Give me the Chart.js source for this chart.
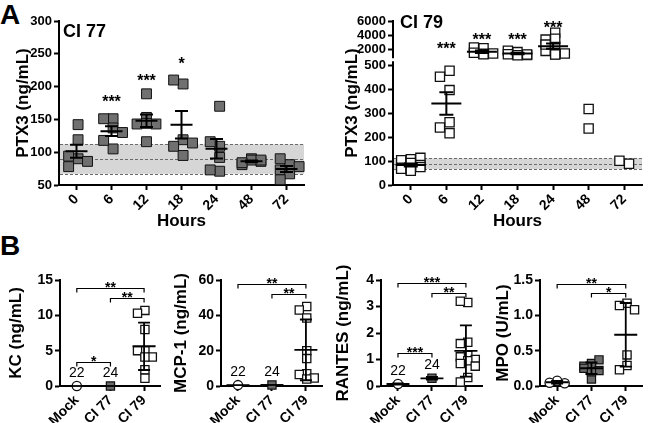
<!DOCTYPE html>
<html>
<head>
<meta charset="utf-8">
<script src="https://cdn.jsdelivr.net/npm/chart.js@4.4.1/dist/chart.umd.min.js"></script>
<style>
body { margin: 0; background: #fff; }
#fig { position: relative; width: 650px; height: 423px; overflow: hidden; font-family: 'Liberation Sans', Arial, sans-serif; }
#fig canvas { position: absolute; }
.tag { position: absolute; font-weight: bold; font-size: 28px; line-height: 1; }
</style>
</head>
<body>
<div id="fig">
  <div class="tag" style="left:0;top:1px">A</div>
  <div class="tag" style="left:0;top:232px">B</div>
  <canvas id="ci77" width="325" height="235" style="left:0;top:0"></canvas>
  <canvas id="ci79" width="320" height="235" style="left:330px;top:0"></canvas>
  <canvas id="kc" width="168" height="198" style="left:0;top:225px"></canvas>
  <canvas id="mcp" width="165" height="198" style="left:165px;top:225px"></canvas>
  <canvas id="rantes" width="163" height="198" style="left:327px;top:225px"></canvas>
  <canvas id="mpo" width="163" height="198" style="left:487px;top:225px"></canvas>
</div>
<script>
// ---- data ----
const hours = ['0', '6', '12', '18', '24', '48', '72'];
const mockBand = [67, 90, 112];

const ci77Ptx3 = [
    [142, 119, 90, 94, 86, 78],
    [151, 137, 105, 151, 118, 130],
    [189, 153, 143, 143, 116, 144],
    [204, 210, 95, 119, 109, 114],
    [170, 109, 116, 92, 71, 73],
    [90, 81, 86, 88, 84, 88],
    [81, 90, 73, 67, 58, 78]
];
const ci77Stars = ['', '***', '***', '*', '', '', ''];
const ci77StarAt = [null, 182, 215, 240, null, null, null];
const ci77Ticks = [50, 100, 150, 200, 250, 300];

const ci79Ptx3 = [
    [108, 104, 114, 92, 84, 72, 64, 60, 75, 68],
    [479, 454, 398, 217, 263, 241],
    [2150, 2250, 1350, 1500, 1400, 1300],
    [1600, 1800, 1200, 1150, 1300, 1250],
    [4350, 3500, 3370, 2330, 1770, 1290, 1390, 1250, 2660],
    [319, 237],
    [89, 102]
];
const ci79Stars = ['', '***', '***', '***', '***', '', ''];
const ci79StarAt = [null, 2570, 3840, 3840, 5630, null, null];
const ci79Ticks = [0, 100, 200, 300, 400, 500, 2000, 4000, 6000];

const groups = ['Mock', 'CI 77', 'CI 79'];

const kcValues = [[0], [0], [10.7, 10.3, 8.0, 5.0, 5.0, 4.1, 4.1, 2.3, 1.1]];
const kcN = ['22', '24', ''];
const kcTicks = [0, 5, 10, 15];
const kcBrackets = [[0, 2, 13.8, '**'], [1, 2, 12.4, '**'], [0, 1, 3.4, '*']];

const mcpValues = [[0.5], [0.6], [45, 43, 38.5, 20, 15.5, 7, 6.5, 4.5, 4]];
const mcpN = ['22', '24', ''];
const mcpTicks = [0, 20, 40, 60];
const mcpBrackets = [[0, 2, 57.7, '**'], [1, 2, 52, '**']];

const rantesValues = [[0.075], [0.29], [3.15, 3.2, 1.65, 1.6, 1.15, 1.1, 1.0, 0.95, 0.85, 0.75, 0.32, 0.15]];
const rantesSd = [0.02, 0.05, null];
const rantesN = ['22', '24', ''];
const rantesTicks = [0, 1, 2, 3, 4];
const rantesBrackets = [[0, 2, 3.9, '***'], [1, 2, 3.5, '**'], [0, 1, 1.23, '***']];

const mpoValues = [[0.075, 0.047, 0.038], [0.32, 0.28, 0.37, 0.27, 0.22, 0.25, 0.1, 0.2], [1.17, 1.14, 1.08, 0.44, 0.29, 0.23]];
const mpoTicks = [0, 0.5, 1.0, 1.5];
const mpoBrackets = [[0, 2, 1.44, '**'], [1, 2, 1.31, '*']];

// ---- helpers ----
const FONT = "'Liberation Sans', Arial, Helvetica, sans-serif";
Chart.defaults.font.family = FONT;
Chart.defaults.color = '#000';

// where the two pieces of the broken PTX3 axis sit (fraction of axis height from bottom)
const ptxSegments = [
    {from: 0, to: 515, start: 0, end: 0.7486},
    {from: 870, to: 6000, start: 0.779, end: 1}
];

class BrokenScale extends Chart.LinearScale {
    getPixelForValue(value) {
        const [lo, up] = ptxSegments;
        let f;
        if (value <= lo.to) {
            f = lo.start + (value - lo.from) / (lo.to - lo.from) * (lo.end - lo.start);
        } else if (value >= up.from) {
            f = up.start + (value - up.from) / (up.to - up.from) * (up.end - up.start);
        } else {
            f = lo.end + (value - lo.to) / (up.from - lo.to) * (up.start - lo.end);
        }
        return this.bottom - f * (this.bottom - this.top);
    }
    getValueForPixel(pixel) {
        const [lo, up] = ptxSegments;
        const f = (this.bottom - pixel) / (this.bottom - this.top);
        if (f <= lo.end) return lo.from + (f - lo.start) / (lo.end - lo.start) * (lo.to - lo.from);
        if (f >= up.start) return up.from + (f - up.start) / (up.end - up.start) * (up.to - up.from);
        return lo.to + (f - lo.end) / (up.start - lo.end) * (up.from - lo.to);
    }
}
BrokenScale.id = 'broken';
Chart.register(BrokenScale);

function stats(vals) {
    const n = vals.length;
    const mean = vals.reduce((a, b) => a + b, 0) / n;
    const sd = n > 1 ? Math.sqrt(vals.reduce((a, b) => a + (b - mean) ** 2, 0) / (n - 1)) : 0;
    return {n, mean, sd, sem: sd / Math.sqrt(n)};
}

// simple column scatter spread, like the prism plots
function swarm(vals, step, tol) {
    const cands = [0, -1, 1, -0.5, 0.5];
    const placed = [];
    vals.forEach(v => {
        let best = 0, bestHits = Infinity;
        for (const c of cands) {
            const hits = placed.filter(p => Math.abs(p.c - c) < 0.9 && Math.abs(p.v - v) < tol).length;
            if (hits < bestHits) { best = c; bestHits = hits; }
            if (hits === 0) break;
        }
        placed.push({c: best, v});
    });
    const shift = placed.reduce((a, p) => a + p.c, 0) / placed.length;
    return placed.map(p => (p.c - shift) * step);
}

function noPad(s) {
    s.paddingLeft = 0; s.paddingRight = 0; s.paddingTop = 0; s.paddingBottom = 0;
}

function catAxis(labels, height, title, size) {
    return {
        type: 'linear',
        min: -0.5,
        max: labels.length - 0.5,
        afterBuildTicks: s => { s.ticks = labels.map((l, i) => ({value: i})); },
        afterFit: s => { s.height = height; noPad(s); },
        border: {display: true, color: '#000', width: 2},
        grid: {drawOnChartArea: false, tickLength: 5, tickWidth: 2, tickColor: '#000'},
        ticks: {
            autoSkip: false, minRotation: 45, maxRotation: 45, padding: 1, color: '#000',
            font: {size: size, weight: 'bold'},
            callback: v => labels[v]
        },
        title: title
            ? {display: true, text: title, color: '#000', font: {size: 17, weight: 'bold'}, padding: {top: 0, bottom: 3}}
            : {display: false}
    };
}

function valAxis(o) {
    return {
        type: o.type || 'linear',
        min: o.min,
        max: o.max,
        afterBuildTicks: s => { s.ticks = o.ticks.map(v => ({value: v})); },
        afterFit: s => { s.width = o.width; noPad(s); },
        border: {display: true, color: '#000', width: 2},
        grid: {drawOnChartArea: false, tickLength: 5, tickWidth: 2, tickColor: '#000'},
        ticks: {autoSkip: false, padding: 2, color: '#000', font: {size: o.size || 13, weight: 'bold'}, callback: o.fmt || (v => String(v))},
        title: {display: true, text: o.title, color: '#000', font: {size: 17, weight: 'bold'}, padding: {top: o.titlePad, bottom: 0}}
    };
}

function prism(cfg) {
    return {
        id: 'prism',
        beforeDatasetsDraw(chart) {
            if (!cfg.band) return;
            const {ctx, chartArea: a} = chart;
            const y = chart.scales.y;
            const top = y.getPixelForValue(cfg.band[2]);
            const bot = y.getPixelForValue(cfg.band[0]);
            ctx.save();
            ctx.fillStyle = '#d6d6d6';
            ctx.fillRect(a.left + 1, top, a.right - a.left - 1, bot - top);
            ctx.strokeStyle = '#6a6a6a';
            ctx.lineWidth = 1;
            ctx.setLineDash([3, 2]);
            cfg.band.forEach(v => {
                const py = Math.round(y.getPixelForValue(v)) + 0.5;
                ctx.beginPath();
                ctx.moveTo(a.left + 1, py);
                ctx.lineTo(a.right, py);
                ctx.stroke();
            });
            ctx.restore();
        },
        afterDatasetsDraw(chart) {
            const {ctx} = chart;
            const x = chart.scales.x, y = chart.scales.y;
            ctx.save();
            ctx.strokeStyle = '#000';
            ctx.lineWidth = cfg.barW;
            cfg.groups.forEach((vals, i) => {
                const s = stats(vals);
                if (s.n < cfg.minN) return;
                const e = cfg.sdFix && cfg.sdFix[i] != null ? cfg.sdFix[i] : (cfg.err === 'sd' ? s.sd : s.sem);
                const cx = x.getPixelForValue(i);
                const pm = y.getPixelForValue(s.mean);
                const pt = y.getPixelForValue(s.mean + e);
                const pb = y.getPixelForValue(s.mean - e);
                ctx.beginPath();
                ctx.moveTo(cx - cfg.meanW / 2, pm);
                ctx.lineTo(cx + cfg.meanW / 2, pm);
                if (e > 0) {
                    ctx.moveTo(cx, pt); ctx.lineTo(cx, pb);
                    ctx.moveTo(cx - cfg.capW / 2, pt); ctx.lineTo(cx + cfg.capW / 2, pt);
                    ctx.moveTo(cx - cfg.capW / 2, pb); ctx.lineTo(cx + cfg.capW / 2, pb);
                }
                ctx.stroke();
            });
            ctx.restore();
        },
        afterDraw(chart) {
            const {ctx, chartArea: a} = chart;
            const x = chart.scales.x, y = chart.scales.y;
            ctx.save();
            ctx.fillStyle = '#000';
            ctx.textAlign = 'center';
            if (cfg.stars) {
                ctx.font = `bold 16px ${FONT}`;
                ctx.textBaseline = 'alphabetic';
                cfg.stars.forEach((t, i) => {
                    if (!t) return;
                    ctx.fillText(t, x.getPixelForValue(i), y.getPixelForValue(cfg.starAt[i]) + 9);
                });
            }
            (cfg.brackets || []).forEach(([g1, g2, v, t]) => {
                const x1 = x.getPixelForValue(g1), x2 = x.getPixelForValue(g2);
                const py = Math.round(y.getPixelForValue(v)) + 0.5;
                ctx.strokeStyle = '#000';
                ctx.lineWidth = 1.2;
                ctx.beginPath();
                ctx.moveTo(x1, py + 4); ctx.lineTo(x1, py); ctx.lineTo(x2, py); ctx.lineTo(x2, py + 4);
                ctx.stroke();
                ctx.font = `bold 14px ${FONT}`;
                ctx.textBaseline = 'alphabetic';
                ctx.fillText(t, (x1 + x2) / 2, py + 3.5);
            });
            if (cfg.nLabels) {
                ctx.font = `14px ${FONT}`;
                ctx.textBaseline = 'middle';
                cfg.nLabels.forEach((t, i) => {
                    if (!t) return;
                    ctx.fillText(t, x.getPixelForValue(i), y.getPixelForValue(stats(cfg.groups[i]).mean) - 13);
                });
            }
            if (cfg.title) {
                ctx.font = `bold 18px ${FONT}`;
                ctx.textAlign = 'left';
                ctx.textBaseline = 'alphabetic';
                ctx.fillText(cfg.title.text, a.left + cfg.title.dx, a.top + cfg.title.dy);
            }
            if (cfg.gap) {
                const p0 = y.getPixelForValue(cfg.gap[0]);
                const p1 = y.getPixelForValue(cfg.gap[1]);
                ctx.fillStyle = '#fff';
                ctx.fillRect(a.left - 2, p1 + 1, 4, p0 - p1 - 2);
            }
            ctx.restore();
        }
    };
}

function makeChart(id, cfg) {
    const datasets = cfg.groups.map((vals, i) => {
        const m = cfg.markers[Math.min(i, cfg.markers.length - 1)];
        const offs = swarm(vals, cfg.step, cfg.tol(i));
        return {
            data: vals.map((v, j) => ({x: i + offs[j], y: v})),
            showLine: false,
            clip: false,
            pointStyle: m.style,
            pointRadius: m.r,
            pointBackgroundColor: m.fill,
            pointBorderColor: '#111',
            pointBorderWidth: m.bw
        };
    });
    return new Chart(document.getElementById(id), {
        type: 'scatter',
        data: {datasets},
        options: {
            responsive: false,
            animation: false,
            events: [],
            layout: {padding: {top: cfg.padTop, right: cfg.padRight, left: 0, bottom: 0}},
            plugins: {legend: {display: false}, tooltip: {enabled: false}},
            scales: {x: cfg.x, y: cfg.y}
        },
        plugins: [prism(cfg)]
    });
}

// ---- panel A ----
makeChart('ci77', {
    groups: ci77Ptx3,
    markers: [{style: 'rect', r: 7, fill: '#707070', bw: 1}],
    step: 0.27, tol: () => 14,
    err: 'sem', minN: 3, meanW: 22, capW: 13, barW: 2,
    band: mockBand, stars: ci77Stars, starAt: ci77StarAt,
    title: {text: 'CI 77', dx: 4, dy: 16},
    padTop: 21, padRight: 21,
    x: catAxis(hours, 50, 'Hours', 14),
    y: valAxis({min: 50, max: 300, ticks: ci77Ticks, width: 59, title: 'PTX3 (ng/mL)', titlePad: 13})
});

makeChart('ci79', {
    groups: ci79Ptx3,
    markers: [{style: 'rect', r: 6.5, fill: '#fff', bw: 1.3}],
    step: 0.27, tol: i => (i >= 2 && i <= 4 ? 700 : 30),
    err: 'sem', minN: 3, meanW: 30, capW: 14, barW: 2,
    band: mockBand, stars: ci79Stars, starAt: ci79StarAt,
    title: {text: 'CI 79', dx: 7, dy: 7},
    gap: [515, 870],
    padTop: 21, padRight: 8,
    x: catAxis(hours, 50, 'Hours', 14),
    y: valAxis({type: 'broken', min: 0, max: 6000, ticks: ci79Ticks, width: 63, title: 'PTX3 (ng/mL)', titlePad: 12})
});

// ---- panel B ----
const bMarkers = [
    {style: 'circle', r: 4.6, fill: '#fff', bw: 1.3},
    {style: 'rect', r: 5.8, fill: '#6b6b6b', bw: 1.2},
    {style: 'rect', r: 5.8, fill: '#fff', bw: 1.3}
];

function panelB(id, o) {
    makeChart(id, {
        groups: o.values,
        markers: bMarkers,
        step: 0.22, tol: () => o.tol,
        err: 'sd', sdFix: o.sdFix, minN: 1, meanW: 23, capW: 12, barW: 1.8,
        brackets: o.brackets, nLabels: o.n,
        padTop: 55, padRight: o.padRight,
        x: catAxis(groups, 37, null, 14),
        y: valAxis({min: o.ticks[0], max: o.ticks[o.ticks.length - 1], ticks: o.ticks, width: o.width, title: o.title, titlePad: 6, fmt: o.fmt, size: 14})
    });
}

panelB('kc', {values: kcValues, n: kcN, ticks: kcTicks, brackets: kcBrackets, tol: 1, width: 60, padRight: 3, title: 'KC (ng/mL)'});
panelB('mcp', {values: mcpValues, n: mcpN, ticks: mcpTicks, brackets: mcpBrackets, tol: 4, width: 56, padRight: 3, title: 'MCP-1 (ng/mL)'});
panelB('rantes', {values: rantesValues, n: rantesN, sdFix: rantesSd, ticks: rantesTicks, brackets: rantesBrackets, tol: 0.25, width: 54, padRight: 3, title: 'RANTES (ng/mL)'});
panelB('mpo', {values: mpoValues, ticks: mpoTicks, brackets: mpoBrackets, tol: 0.1, width: 53, padRight: 5, title: 'MPO (U/mL)', fmt: v => v.toFixed(1)});
</script>
</body>
</html>
